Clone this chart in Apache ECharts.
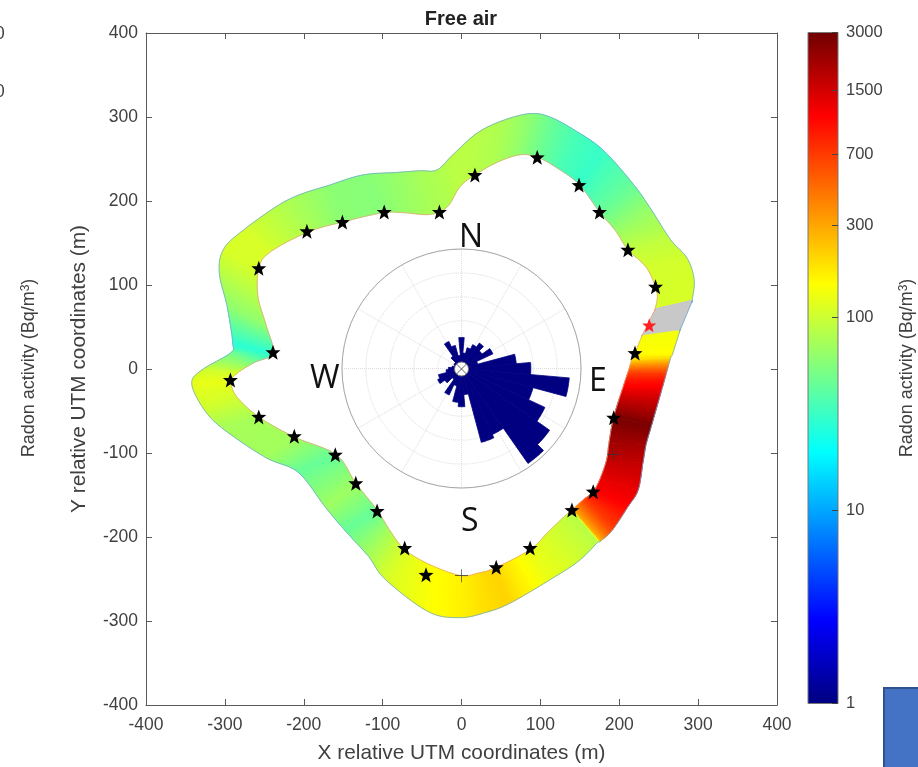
<!DOCTYPE html>
<html><head><meta charset="utf-8">
<style>html,body{margin:0;padding:0;background:#fff}#c{width:918px;height:767px}</style>
<script src="https://cdn.jsdelivr.net/npm/echarts@6/dist/echarts.min.js"></script>
</head><body><div id="c"></div>
<script>
// Ring stations, clockwise, data units (m) and radon activity (Bq/m3); null = no data
var innerX=[-195,-151,-100,-72,-40,-18,-2,17,45,74,97,125,150,175,195,211,235,248,245,245,229,229,220,216,211,205,193,187,184,176,167,154,140,138,112,87,42,21,-1,-40,-72,-91,-107,-134,-159,-212,-257,-285,-292,-283,-262,-239,-247,-258,-257,-243];
var innerY=[163,175,186,186,184,193,217,231,246,255,252,237,219,187,165,142,120,90,70,70,40,40,19,11,-4,-21,-57,-88,-108,-130,-146,-156,-168,-169,-192,-215,-237,-243,-246,-233,-215,-192,-168,-136,-102,-81,-57,-33,-15,-4,8,19,50,86,120,139];
var outerX=[-221,-167,-125,-82,-53,-31,-11,20,53,87,112,144,179,217,239,265,286,295,292,292,277,277,268,265,260,255,241,234,230,224,211,191,176,172,148,112,61,30,-2,-42,-96,-118,-148,-173,-207,-249,-304,-328,-342,-329,-293,-290,-297,-307,-302,-277];
var outerY=[201,219,231,234,236,237,255,281,296,304,300,284,261,221,192,154,132,106,80,80,46,46,19,13,-4,-21,-67,-90,-112,-144,-164,-192,-205,-207,-229,-251,-279,-290,-296,-289,-251,-223,-192,-164,-123,-105,-70,-46,-17,-1,19,31,74,114,142,165];
var radon=[78,60,58,66,75,80,88,85,78,62,48,36,31,45,65,92,105,108,110,null,null,135,150,190,650,1100,2800,2100,1700,1300,1100,650,260,85,105,125,210,190,165,145,110,75,45,70,45,72,75,105,125,105,50,28,62,85,110,110];
// Monitoring points
var starX=[17,96,149,175,211,246,220,193,167,140,87,44,-45,-72,-107,-134,-160,-212,-257,-293,-239,-257,-196,-151,-98,-28];
var starY=[231,252,219,187,142,98,19,-58,-146,-168,-213,-236,-245,-213,-169,-136,-102,-80,-57,-13,20,120,164,175,187,187];
var redStarX=[238], redStarY=[52];
var crossX=[193,0], crossY=[-102,-246];
var centerPoint=[[0,0]];
// Wind rose: 10 degree bins from north, clockwise (frequency, %)
var roseBins=[0,10,20,30,40,50,60,70,80,90,100,110,120,130,140,150,160,170,180,190,200,210,220,230,240,250,260,270,280,290,300,310,320,330,340,350];
var roseValues=[2.6,1.3,1.8,2.2,2.6,2.1,2.9,1.4,4.6,5.8,9.05,6.2,7.7,9.0,9.7,6.1,6.4,2.2,3.2,2.85,1.5,2.45,1.1,1.7,2.2,2.0,1.3,1.1,0.8,0.6,0.7,0.7,1.25,2.5,2.0,1.1];
// Axis ticks
var colorbarTicks=[1,10,100,300,700,1500,3000];

var jet=[[0,[0,0,128]],[0.125,[0,0,255]],[0.375,[0,255,255]],[0.625,[255,255,0]],[0.875,[255,0,0]],[1,[112,0,0]]];
var logMax=Math.log10(3000);
function jetColor(t){
  t=Math.max(0,Math.min(1,t));
  for(var i=1;i<jet.length;i++){
    if(t<=jet[i][0]){
      var a=jet[i-1],b=jet[i],f=(t-a[0])/(b[0]-a[0]);
      return 'rgb('+[0,1,2].map(function(k){return Math.round(a[1][k]+(b[1][k]-a[1][k])*f)}).join(',')+')';
    }
  }
  return 'rgb(112,0,0)';
}
var n=radon.length, SUB=12;
var ringData=radon.map(function(v,i){return [i]});
// Smooth ring edge between two stations, as the original's spline outline
function edge(xs,ys,i,api){
  var P=function(k){k=(k+n)%n;return api.coord([xs[k],ys[k]])};
  var p0=P(i-1),p1=P(i),p2=P(i+1),p3=P(i+2),out=[];
  for(var s=0;s<=SUB;s++){
    var t=s/SUB,t2=t*t,t3=t2*t;
    out.push([0,1].map(function(k){
      return 0.5*(2*p1[k]+(p2[k]-p0[k])*t+(2*p0[k]-5*p1[k]+4*p2[k]-p3[k])*t2+(3*p1[k]-p0[k]-3*p2[k]+p3[k])*t3);
    }));
  }
  return out;
}
function renderBand(params,api){
  var i=api.value(0), j=(i+1)%n;
  var inn=edge(innerX,innerY,i,api),out=edge(outerX,outerY,i,api),kids=[];
  var gray=radon[i]===null||radon[j]===null;
  if(!gray){var la=Math.log10(radon[i]),lb=Math.log10(radon[j]);}
  for(var s=0;s<SUB;s++){
    var col=gray?'#c8c8c8':jetColor((la+(lb-la)*(s+0.5)/SUB)/logMax);
    var e=Math.min(s+2,SUB);
    kids.push({type:'polygon',shape:{points:[inn[s],out[s],out[e],inn[e]]},style:{fill:col,stroke:col,lineWidth:0.5}});
  }
  kids.push({type:'polyline',z2:5,shape:{points:inn},style:{fill:null,stroke:'#eba583',lineWidth:0.8}});
  kids.push({type:'polyline',z2:5,shape:{points:out},style:{fill:null,stroke:'#6fa9d6',lineWidth:0.8}});
  return {type:'group',children:kids};
}
function renderRose(params,api){
  var v=api.value(0), az=api.value(1), pts=[api.coord([0,0])];
  for(var k=-5;k<=5;k+=1){pts.push(api.coord([v,(az+k+360)%360]));}
  return {type:'polygon',shape:{points:pts},style:{fill:'#000080',stroke:'#000080',lineWidth:0.8}};
}
function zip(xs,ys){return xs.map(function(x,i){return [x,ys[i]]});}
function renderBar(params,api){
  var p0=api.coord([0,logMax]),p1=api.coord([1,0]);
  var stops=jet.map(function(s){return {offset:1-s[0],color:'rgb('+s[1].join(',')+')'}}).reverse();
  return {type:'rect',shape:{x:p0[0],y:p0[1],width:p1[0]-p0[0],height:p1[1]-p0[1]},
    style:{fill:new echarts.graphic.LinearGradient(0,0,0,1,stops),stroke:'#777',lineWidth:1}};
}
var STAR='path://M50 0 L63 35 L100 36 L71 59 L81 96 L50 75 L19 96 L29 59 L0 36 L37 35 Z';
var CROSS='path://M47.5 0 H52.5 V47.5 H100 V52.5 H52.5 V100 H47.5 V52.5 H0 V47.5 H47.5 Z';
var XMARK='path://M8 4 L50 46 L92 4 L96 8 L54 50 L96 92 L92 96 L50 54 L8 96 L4 92 L46 50 L4 8 Z';
var font='Liberation Sans';
var tick={color:'#404040',fontFamily:font,fontSize:17.5};
var line={lineStyle:{color:'#5a5a5a',width:1}};
var sup={sup:{fontSize:12,verticalAlign:'top',lineHeight:14,padding:[0,0,8,0],fontFamily:font,color:'#404040'}};
var chart=echarts.init(document.getElementById('c'),null,{renderer:'canvas'});
chart.setOption({
  animation:false,
  backgroundColor:'#fff',
  grid:[{left:146,top:33,width:631,height:672,show:false,outerBoundsMode:'none'},{left:808,top:32.5,width:30,height:671,show:false,outerBoundsMode:'none'}],
  xAxis:[
    {gridIndex:0,type:'value',min:-400,max:400,interval:100,position:'bottom',splitLine:{show:false},
     axisLine:Object.assign({show:true,onZero:false},line),axisTick:Object.assign({show:true,inside:true,length:6},line),
     axisLabel:Object.assign({margin:11,showMinLabel:true,showMaxLabel:true},tick),
     name:'X relative UTM coordinates (m)',nameLocation:'middle',nameGap:38,nameTextStyle:{fontFamily:font,fontSize:20.8,color:'#404040'}},
    {gridIndex:0,type:'value',min:-400,max:400,interval:100,position:'top',splitLine:{show:false},
     axisLine:Object.assign({show:true,onZero:false},line),axisTick:Object.assign({show:true,inside:true,length:6},line),axisLabel:{show:false}},
    {gridIndex:1,type:'value',min:0,max:1,show:false}
  ],
  yAxis:[
    {gridIndex:0,type:'value',min:-400,max:400,interval:100,position:'left',splitLine:{show:false},
     axisLine:Object.assign({show:true,onZero:false},line),axisTick:Object.assign({show:true,inside:true,length:6},line),
     axisLabel:Object.assign({margin:8,showMinLabel:true,showMaxLabel:true},tick),
     name:'Y relative UTM coordinates (m)',nameLocation:'middle',nameGap:56,nameTextStyle:{fontFamily:font,fontSize:20.8,color:'#404040'}},
    {gridIndex:0,type:'value',min:-400,max:400,interval:100,position:'right',splitLine:{show:false},
     axisLine:Object.assign({show:true,onZero:false},line),axisTick:Object.assign({show:true,inside:true,length:6},line),axisLabel:{show:false}},
    {gridIndex:1,type:'value',min:0,max:logMax,position:'right',splitLine:{show:false},z:6,
     axisLine:{show:false,onZero:false},
     axisTick:{show:true,inside:true,length:6,customValues:colorbarTicks.map(function(v){return Math.log10(v)}),lineStyle:{color:'#444'}},
     axisLabel:{show:true,margin:8,fontFamily:font,fontSize:16.5,color:'#404040',
       customValues:colorbarTicks.map(function(v){return Math.log10(v)}),
       formatter:function(v){return String(Math.round(Math.pow(10,v)))}},
     name:'Radon activity (Bq/m{sup|3})',nameLocation:'middle',nameGap:60,
     nameTextStyle:{fontFamily:font,fontSize:18,color:'#404040',rich:sup}}
  ],
  polar:{center:[461.5,368.5],radius:119.5},
  angleAxis:{type:'value',min:0,max:360,interval:30,startAngle:90,clockwise:true,
     axisLine:{show:true,lineStyle:{color:'#a8a8a8',width:1}},axisTick:{show:false},axisLabel:{show:false},
     splitLine:{show:true,lineStyle:{color:'#dcdcdc',type:'dotted',width:1}}},
  radiusAxis:{type:'value',min:0,max:10,interval:2,axisLine:{show:false},axisTick:{show:false},axisLabel:{show:false},
     splitLine:{show:true,lineStyle:{color:'#dcdcdc',type:'dotted',width:1}}},
  series:[
    {type:'custom',coordinateSystem:'cartesian2d',xAxisIndex:0,yAxisIndex:0,data:ringData,renderItem:renderBand,clip:false,z:2,silent:true},
    {type:'custom',coordinateSystem:'polar',data:zip(roseValues,roseBins),renderItem:renderRose,z:4,silent:true},
    {type:'scatter',xAxisIndex:0,yAxisIndex:0,data:centerPoint,symbol:'circle',symbolSize:14,itemStyle:{color:'#fff',borderColor:'#777',borderWidth:1,opacity:1},z:5,silent:true},
    {type:'scatter',xAxisIndex:0,yAxisIndex:0,data:centerPoint,symbol:XMARK,symbolSize:11,itemStyle:{color:'#555',opacity:1},z:6,silent:true},
    {type:'scatter',xAxisIndex:0,yAxisIndex:0,data:zip(starX,starY),symbol:STAR,symbolSize:15,itemStyle:{color:'#000',opacity:1},z:7,silent:true},
    {type:'scatter',xAxisIndex:0,yAxisIndex:0,data:zip(redStarX,redStarY),symbol:STAR,symbolSize:14,itemStyle:{color:'#ff2020',opacity:1},z:7,silent:true},
    {type:'scatter',xAxisIndex:0,yAxisIndex:0,data:zip(crossX,crossY),symbol:CROSS,symbolSize:13,itemStyle:{color:'#333',opacity:1},z:7,silent:true},
    {type:'custom',coordinateSystem:'cartesian2d',xAxisIndex:2,yAxisIndex:2,data:[[0,0]],renderItem:renderBar,z:2,silent:true}
  ],
  graphic:[
    {type:'text',x:461,y:19,z:10,style:{text:'Free air',align:'center',verticalAlign:'middle',fontFamily:font,fontWeight:'bold',fontSize:20,fill:'#222'}},
    {type:'text',left:459,top:222,z:10,style:{text:'N',fontFamily:'Open Sans',fontSize:32,fill:'#111'}},
    {type:'text',left:589,top:366,z:10,style:{text:'E',fontFamily:'Open Sans',fontSize:32,fill:'#111'}},
    {type:'text',left:461,top:506,z:10,style:{text:'S',fontFamily:'Open Sans',fontSize:32,fill:'#111'}},
    {type:'text',left:310,top:363,z:10,style:{text:'W',fontFamily:'Open Sans',fontSize:32,fill:'#111'}},
    {type:'text',x:-5,y:34,z:10,style:{text:'0',verticalAlign:'middle',fontFamily:font,fontSize:17.5,fill:'#404040'}},
    {type:'text',x:-5,y:92,z:10,style:{text:'0',verticalAlign:'middle',fontFamily:font,fontSize:17.5,fill:'#404040'}},
    {type:'text',x:29,y:368,rotation:Math.PI/2,z:10,
     style:{text:'Radon activity (Bq/m{sup|3})',align:'center',verticalAlign:'middle',fontFamily:font,fontSize:18,fill:'#404040',rich:sup}},
    {type:'rect',shape:{x:884,y:688,width:40,height:85},z:10,style:{fill:'#4472c4',stroke:'#2f528f',lineWidth:2}}
  ]
});
</script></body></html>
